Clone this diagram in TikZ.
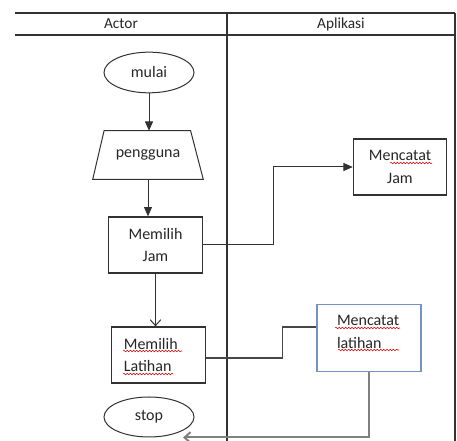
\documentclass[tikz,border=0pt]{standalone}
\usepackage{fontspec}
\setmainfont{Carlito}
\usetikzlibrary{arrows.meta,positioning,shapes.geometric,decorations.pathmorphing}
\definecolor{lanegray}{RGB}{50,50,50}
\definecolor{boxblue}{RGB}{115,148,190}
\definecolor{flowgray}{RGB}{128,128,128}

\begin{document}
\begin{tikzpicture}[
  x=0.75pt, y=-0.75pt,
  font=\fontsize{12}{17}\selectfont, text=black!85,
  lane/.style={draw=lanegray, line width=0.9pt},
  terminal/.style={ellipse, draw=lanegray, line width=0.75pt, minimum width=67.5pt, minimum height=30.5pt, inner sep=0pt},
  inputbox/.style={rectangle, minimum width=82.5pt, minimum height=36pt, inner sep=0pt},
  box/.style={rectangle, draw=lanegray, line width=0.9pt, minimum width=70pt, minimum height=42pt, align=center, inner sep=0pt},
  arrow/.style={-{Triangle[length=7pt,width=6pt]}, draw=lanegray, line width=0.75pt},
  openarrow/.style={-{Straight Barb[length=4.5pt,width=8pt]}, draw=lanegray, line width=0.75pt},
  connector/.style={draw=lanegray!90, line width=0.9pt},
  squiggle/.style={draw=red!85!black, line width=0.4pt, decorate, decoration={snake, amplitude=0.6pt, segment length=2.4pt}},
]
\useasboundingbox (0,0) rectangle (457,441);

% swimlanes
\draw[lane] (15,13) -- (455,13);
\draw[lane] (15,35) -- (455,35);
\draw[lane] (227,13) -- (227,441);
\draw[lane] (455,13) -- (455,441);
\node[font=\fontsize{11.5}{14}\selectfont] (actorhd) at (121,24) {Actor};
\node[font=\fontsize{11.5}{14}\selectfont] (aplikasihd) at (341,24) {Aplikasi};

% actor
\node[terminal] (mulai) at (149,72.5) {mulai};
\node[inputbox] (pengguna) at (148,155) {pengguna};
\draw[draw=lanegray, line width=0.75pt] (pengguna.south west) -- ([xshift=8.5pt]pengguna.north west)
  -- ([xshift=-9.5pt]pengguna.north east) -- (pengguna.south east) -- cycle;
\node[box] (pilihjam) at (155.5,245) {Memilih\\Jam};
\node[box, align=left, text width=52pt] (pilihlatihan) at (158.5,355) {Memilih\\Latihan};
\node[terminal, minimum height=30pt] (stop) at (149,417) {stop};

% aplikasi
\node[box] (catatjam) at (400,167) {Mencatat\\Jam};
\node[box, draw=boxblue, align=left, text width=48pt, minimum width=78pt, minimum height=50.25pt] (catatlatihan) at (369,338) {Mencatat\\latihan\rule[-9pt]{0pt}{9pt}};

\draw[arrow] (mulai) -- (mulai |- pengguna.north);
\draw[arrow] (pengguna) -- (pengguna |- pilihjam.north);
\draw[openarrow] (pilihjam.south) -- (pilihjam.south |- pilihlatihan.north);
\draw[arrow] (pilihjam.east) -- ++(71,0) |- (catatjam.west);
\draw[connector] ([yshift=-2.25pt]pilihlatihan.east) -- ++(77,0) |- ([yshift=8.25pt]catatlatihan.west);
\coordinate (stopin) at ([xshift=25.5pt]stop.south);
\draw[openarrow, draw=flowgray, line width=1.5pt] (catatlatihan.south) |- (stopin);

% spelling marks
\draw[squiggle] (390,163) -- (432,163);
\draw[squiggle] (123,351) -- (182,351);
\draw[squiggle] (123,374) -- (173,374);
\draw[squiggle] (335,328) -- (400,328);
\draw[squiggle] (338,350) -- (399,350);
\end{tikzpicture}
\end{document}
